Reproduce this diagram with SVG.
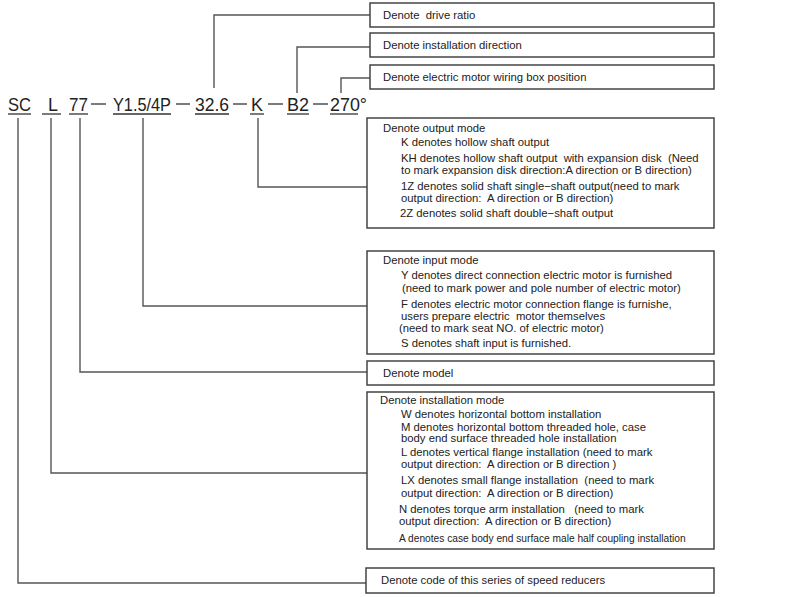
<svg xmlns="http://www.w3.org/2000/svg" width="800" height="597" viewBox="0 0 800 597">
<style>
.bx{fill:#fff;stroke:#444;stroke-width:1.5}
.ln{fill:none;stroke:#555;stroke-width:1.4}
.ul{stroke:#333;stroke-width:1.3}
.code{font-family:"Liberation Sans",Arial,sans-serif;font-size:19px;fill:#222}
.t{font-family:"Liberation Sans",Arial,sans-serif;font-size:11.3px;fill:#222;white-space:pre}
.s{font-family:"Liberation Sans",Arial,sans-serif;font-size:10.2px;fill:#222;white-space:pre}
</style>
<rect width="800" height="597" fill="#fff"/>
<g id="connectors">
<polyline class="ln" points="18,118 18,583 366,583"/>
<polyline class="ln" points="51,118 51,473 367,473"/>
<polyline class="ln" points="80,118 80,372 367,372"/>
<polyline class="ln" points="143,118 143,306 367,306"/>
<polyline class="ln" points="258,118 258,187 367,187"/>
<polyline class="ln" points="214,88 214,15 370,15"/>
<polyline class="ln" points="297,93 297,47 370,47"/>
<polyline class="ln" points="341,93 341,78 370,78"/>
</g>
<g id="code">
<text class="code" x="8" y="111" textLength="23" lengthAdjust="spacingAndGlyphs">SC</text>
<line class="ul" x1="8" y1="114" x2="31" y2="114"/>
<text class="code" x="48" y="111" textLength="10" lengthAdjust="spacingAndGlyphs">L</text>
<line class="ul" x1="42" y1="114" x2="61" y2="114"/>
<text class="code" x="69" y="111" textLength="19" lengthAdjust="spacingAndGlyphs">77</text>
<line class="ul" x1="69" y1="114" x2="88" y2="114"/>
<line class="ul" x1="91" y1="104" x2="106" y2="104"/>
<text class="code" x="113" y="111" textLength="58" lengthAdjust="spacingAndGlyphs">Y1.5/4P</text>
<line class="ul" x1="113" y1="114" x2="171" y2="114"/>
<line class="ul" x1="176" y1="104" x2="190" y2="104"/>
<text class="code" x="195" y="111" textLength="34" lengthAdjust="spacingAndGlyphs">32.6</text>
<line class="ul" x1="195" y1="114" x2="229" y2="114"/>
<line class="ul" x1="233" y1="104" x2="247" y2="104"/>
<text class="code" x="251" y="111" textLength="12" lengthAdjust="spacingAndGlyphs">K</text>
<line class="ul" x1="250" y1="114" x2="264" y2="114"/>
<line class="ul" x1="268" y1="104" x2="283" y2="104"/>
<text class="code" x="287" y="111" textLength="22" lengthAdjust="spacingAndGlyphs">B2</text>
<line class="ul" x1="287" y1="114" x2="309" y2="114"/>
<line class="ul" x1="313" y1="104" x2="328" y2="104"/>
<text class="code" x="330" y="111" textLength="37" lengthAdjust="spacingAndGlyphs">270°</text>
<line class="ul" x1="330" y1="114" x2="358" y2="114"/>
</g>
<g id="drive-ratio">
<rect class="bx" x="370" y="3" width="344" height="24"/>
<text class="t" x="383" y="19">Denote  drive ratio</text>
</g>
<g id="installation-direction">
<rect class="bx" x="370" y="33" width="344" height="24"/>
<text class="t" x="383" y="49">Denote installation direction</text>
</g>
<g id="wiring-box">
<rect class="bx" x="370" y="65" width="344" height="24"/>
<text class="t" x="383" y="81">Denote electric motor wiring box position</text>
</g>
<g id="output-mode">
<rect class="bx" x="367" y="118" width="347" height="110"/>
<text class="t" x="383" y="132">Denote output mode</text>
<text class="t" x="401" y="146">K denotes hollow shaft output</text>
<text class="t" x="401" y="162">KH denotes hollow shaft output  with expansion disk  (Need</text>
<text class="t" x="401" y="174">to mark expansion disk direction:A direction or B direction)</text>
<text class="t" x="401" y="190">1Z denotes solid shaft single−shaft output(need to mark</text>
<text class="t" x="401" y="202">output direction:  A direction or B direction)</text>
<text class="t" x="400" y="217">2Z denotes solid shaft double−shaft output</text>
</g>
<g id="input-mode">
<rect class="bx" x="367" y="251" width="347" height="103"/>
<text class="t" x="383" y="264">Denote input mode</text>
<text class="t" x="401" y="279">Y denotes direct connection electric motor is furnished</text>
<text class="t" x="402" y="292">(need to mark power and pole number of electric motor)</text>
<text class="t" x="401" y="308">F denotes electric motor connection flange is furnishe,</text>
<text class="t" x="401" y="320">users prepare electric  motor themselves</text>
<text class="t" x="399" y="332">(need to mark seat NO. of electric motor)</text>
<text class="t" x="401" y="347">S denotes shaft input is furnished.</text>
</g>
<g id="model">
<rect class="bx" x="367" y="361" width="347" height="24"/>
<text class="t" x="383" y="377">Denote model</text>
</g>
<g id="installation-mode">
<rect class="bx" x="367" y="392" width="347" height="157"/>
<text class="t" x="380" y="404">Denote installation mode</text>
<text class="t" x="401" y="418">W denotes horizontal bottom installation</text>
<text class="t" x="401" y="431">M denotes horizontal bottom threaded hole, case</text>
<text class="t" x="401" y="442">body end surface threaded hole installation</text>
<text class="t" x="401" y="456">L denotes vertical flange installation (need to mark</text>
<text class="t" x="401" y="468">output direction:  A direction or B direction )</text>
<text class="t" x="401" y="484">LX denotes small flange installation  (need to mark</text>
<text class="t" x="401" y="497">output direction:  A direction or B direction)</text>
<text class="t" x="399" y="513">N denotes torque arm installation   (need to mark</text>
<text class="t" x="399" y="525">output direction:  A direction or B direction)</text>
<text class="s" x="399" y="542">A denotes case body end surface male half coupling installation</text>
</g>
<g id="series-code">
<rect class="bx" x="366" y="568" width="348" height="25"/>
<text class="t" x="381" y="584">Denote code of this series of speed reducers</text>
</g>
</svg>
